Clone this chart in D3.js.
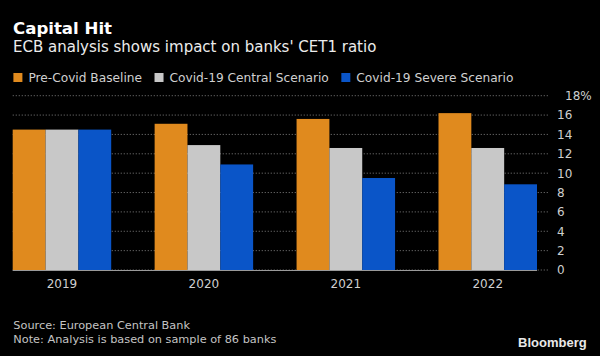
<!DOCTYPE html>
<html><head><meta charset="utf-8">
<script src="https://cdn.jsdelivr.net/npm/d3@7"></script>
<style>
html,body{margin:0;padding:0;background:#000;}
svg{display:block;}
text{font-family:"DejaVu Sans",sans-serif;}
</style></head>
<body>
<svg id="chart" width="600" height="356"></svg>
<script>
const years = ["2019","2020","2021","2022"];
const seriesNames = ["Pre-Covid Baseline","Covid-19 Central Scenario","Covid-19 Severe Scenario"];
const preCovid = [14.5, 15.1, 15.6, 16.2];
const central  = [14.5, 12.9, 12.6, 12.6];
const severe   = [14.5, 10.9, 9.5, 8.85];
const yTicks = [0,2,4,6,8,10,12,14,16,18];
const colors = ["#e08a1e","#c8c8c8","#0a55c8"];
const seriesValues = [preCovid, central, severe];

const svg = d3.select("#chart");
svg.append("rect").attr("width",600).attr("height",356).attr("fill","#000");

// titles
svg.append("text").attr("x",13).attr("y",34.3).attr("fill","#fff")
  .attr("font-weight","bold").attr("font-size",16.6).text("Capital Hit");
svg.append("text").attr("x",13).attr("y",52.3).attr("fill","#ececec")
  .attr("font-size",15).text("ECB analysis shows impact on banks' CET1 ratio");

// legend
let lx = 13.4;
seriesNames.forEach((name,i)=>{
  const g = svg.append("g");
  g.append("rect").attr("x",lx).attr("y",73).attr("width",9).attr("height",9).attr("fill",colors[i]);
  const t = g.append("text").attr("x",lx+15).attr("y",81.7).attr("fill","#d0d0d0")
    .attr("font-size",12.2).text(name);
  lx = lx + 15 + t.node().getComputedTextLength() + 12.5;
});

const x0 = d3.scaleBand().domain(years).range([12.7,537]).paddingInner(0.306).paddingOuter(0);
const x1 = d3.scaleBand().domain(d3.range(seriesNames.length)).range([0,x0.bandwidth()]).padding(0);
const y = d3.scaleLinear().domain([0,18]).range([270,95.7]);

// gridlines
svg.append("g").selectAll("line").data(yTicks).join("line")
  .attr("x1",12.7).attr("x2",548).attr("y1",d=>y(d)).attr("y2",d=>y(d))
  .attr("stroke","#6a6a6a").attr("stroke-width",1).attr("stroke-dasharray","1.2,1.8");

// bars
const groups = svg.append("g").selectAll("g").data(years).join("g")
  .attr("transform",d=>`translate(${x0(d)},0)`);
groups.selectAll("rect").data((d,yi)=>seriesValues.map((s,si)=>({si,v:s[yi]}))).join("rect")
  .attr("x",d=>x1(d.si)).attr("width",x1.bandwidth())
  .attr("y",d=>y(d.v)).attr("height",d=>y(0)-y(d.v)).attr("fill",d=>colors[d.si]);

// baseline
svg.append("line").attr("x1",12.7).attr("x2",537).attr("y1",y(0)+0.5).attr("y2",y(0)+0.5)
  .attr("stroke","#9a9a9a").attr("stroke-width",1);

// y axis labels
const yAxis = d3.axisRight(y).tickValues(yTicks).tickSize(0).tickPadding(0)
  .tickFormat(d=> d===18 ? "18%" : d);
const ya = svg.append("g").attr("transform","translate(557,0)").call(yAxis);
ya.select(".domain").remove();
ya.selectAll("text").attr("fill","#cfcfcf").attr("font-size",12).attr("font-family","DejaVu Sans")
  .attr("dx",d=> d===18 ? 8 : 0);

// x axis labels
const xAxis = d3.axisBottom(x0).tickSize(0).tickPadding(0);
const xa = svg.append("g").attr("transform","translate(0,279)").call(xAxis);
xa.select(".domain").remove();
xa.selectAll("text").attr("fill","#cfcfcf").attr("font-size",12).attr("font-family","DejaVu Sans");

// footer
svg.append("text").attr("x",13.3).attr("y",329).attr("fill","#c4c4c4").attr("font-size",11.3)
  .text("Source: European Central Bank");
svg.append("text").attr("x",13.3).attr("y",342.7).attr("fill","#c4c4c4").attr("font-size",11.3)
  .text("Note: Analysis is based on sample of 86 banks");
svg.append("text").attr("x",586.7).attr("y",346.5).attr("text-anchor","end").attr("fill","#e8e8e8")
  .attr("font-weight","bold").attr("font-size",13)
  .style("font-family","'Liberation Sans', Arial, sans-serif").text("Bloomberg");
</script>
</body></html>
